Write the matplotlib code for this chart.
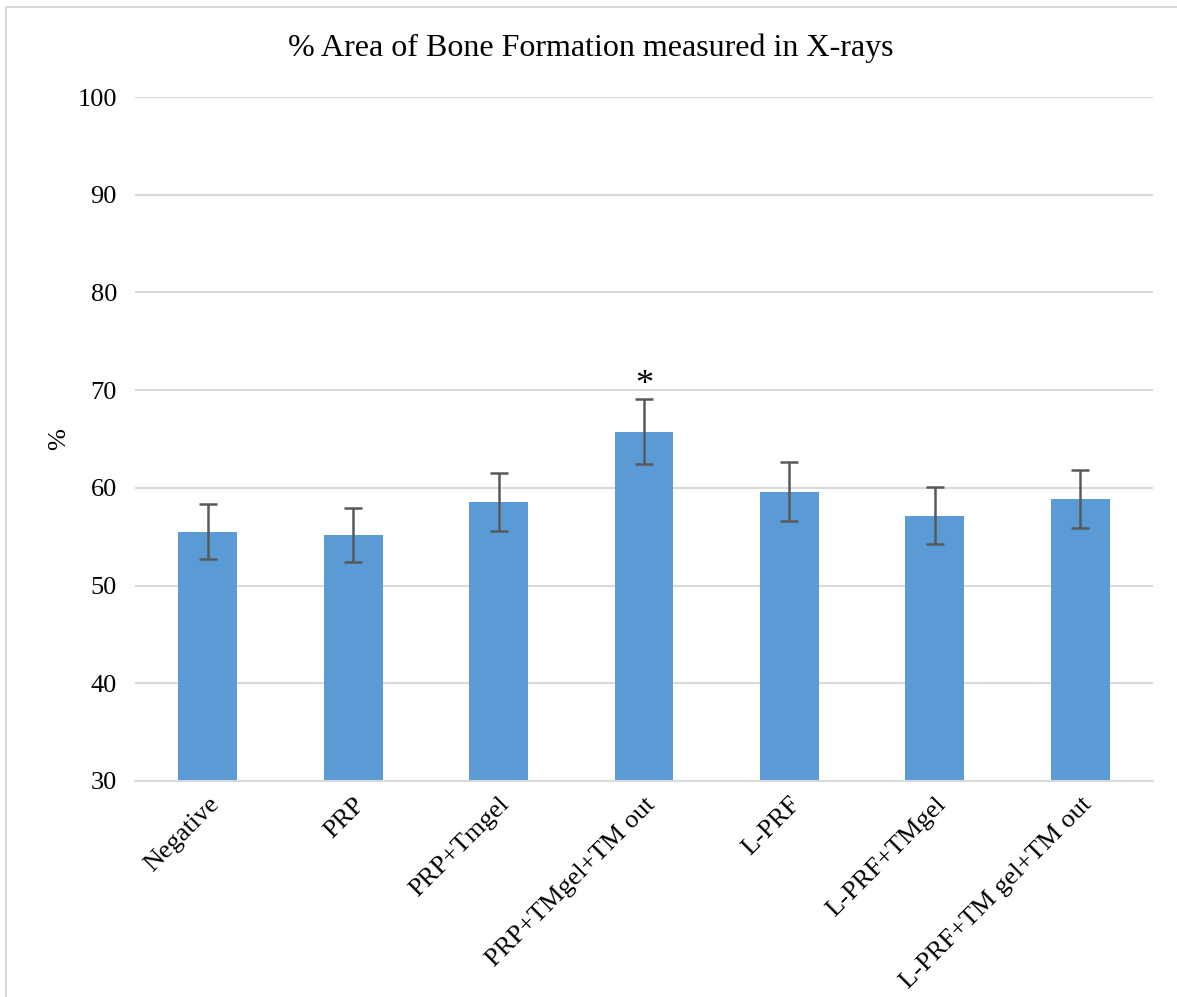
import matplotlib
matplotlib.use("Agg")
import matplotlib.pyplot as plt
import numpy as np
from matplotlib.patches import Rectangle

# data
groups = ["Negative", "PRP", "PRP+Tmgel", "PRP+TMgel+TM out",
          "L-PRF", "L-PRF+TMgel", "L-PRF+TM gel+TM out"]
means = [55.5, 55.2, 58.55, 65.75, 59.6, 57.15, 58.85]
errors = [2.8, 2.75, 2.95, 3.3, 3.0, 2.9, 2.95]
yticks = [30, 40, 50, 60, 70, 80, 90, 100]

plt.rcParams["font.family"] = ["Liberation Serif", "DejaVu Serif"]

fig = plt.figure(figsize=(11.77, 9.97), dpi=100)
ax = fig.add_axes([0.1147, 0.2167, 0.8649, 0.686])

x = np.arange(len(groups))
ax.bar(x, [m - 30 for m in means], bottom=30, width=0.405, color="#5b9bd5", zorder=2)
ax.errorbar(x, means, yerr=errors, fmt="none", ecolor="#595959", elinewidth=1.8,
            capsize=6.5, capthick=1.8, zorder=3)

# significance marker
star = groups.index("PRP+TMgel+TM out")
ax.text(star, means[star] + errors[star - 0] - 0.3, "*", ha="center", va="bottom", fontsize=26)

ax.set_ylim(30, 100)
ax.set_xlim(-0.5, len(groups) - 0.5)
ax.set_yticks(yticks)
ax.tick_params(axis="y", length=0, labelsize=19, pad=13)
ax.tick_params(axis="x", length=0, labelsize=19, pad=9)
ax.set_xticks(x)
ax.set_xticklabels(groups, rotation=45, ha="right", rotation_mode="anchor")
ax.yaxis.grid(True, color="#d9d9d9", linewidth=1.5, zorder=0)
ax.set_axisbelow(True)
for s in ["top", "right", "left"]:
    ax.spines[s].set_visible(False)
ax.spines["bottom"].set_color("#d9d9d9")
ax.spines["bottom"].set_linewidth(1.5)

ax.set_ylabel("%", fontsize=19, labelpad=5)
fig.text(0.502, 0.952, "% Area of Bone Formation measured in X-rays",
         ha="center", va="center", fontsize=23)

# light chart border
fig.patches.append(Rectangle((0.0055, -0.05), 1.2, 1.043, transform=fig.transFigure,
                             fill=False, edgecolor="#d9d9d9", linewidth=1.5))

fig.savefig("out.png", dpi=100)
